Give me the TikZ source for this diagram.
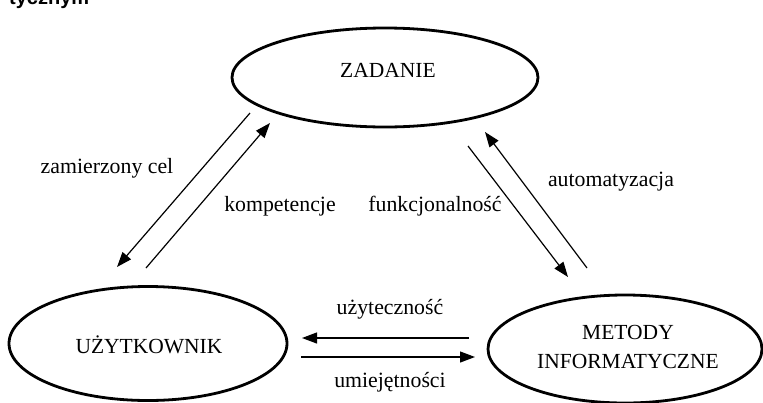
\documentclass[tikz,border=0pt]{standalone}
\usepackage{fontspec}
\setmainfont{Liberation Serif}
\newfontfamily\headsans{Liberation Sans}
\usetikzlibrary{shapes.geometric,arrows.meta}
\tikzset{
  stateell/.style={draw=black,line width=2.8pt,ellipse,inner sep=0pt},
  flowarrow/.style={line width=1.2pt,-{Triangle[length=15pt,width=11pt]}},
  flowlabel/.style={font=\fontsize{21.8}{24}\selectfont,inner sep=0pt},
  elllabel/.style={font=\fontsize{21.5}{29}\selectfont,align=center,inner sep=0pt}
}
\begin{document}
\begin{tikzpicture}[x=1pt,y=-1pt]
\useasboundingbox (0,0) rectangle (763,402);
\clip (0,0) rectangle (763,402);
\fill[white] (0,0) rectangle (763,402);
% cut-off heading text
\node[anchor=base west,inner sep=0pt,font=\headsans\bfseries\fontsize{20}{22}\selectfont] (head) at (9,4) {tycznym};
% ellipses
\node[stateell,minimum width=306pt,minimum height=99pt] (zad) at (385,77.5) {};
\node[elllabel] (zadt) at (388,70) {ZADANIE};
\node[stateell,minimum width=278pt,minimum height=114pt] (uzy) at (148,343.5) {};
\node[elllabel] (uzyt) at (149,345) {UŻYTKOWNIK};
\node[stateell,minimum width=274pt,minimum height=108pt] (met) at (625,349) {};
\node[elllabel] (mett) at (628,347) {METODY\\INFORMATYCZNE};
% arrow end points
\coordinate (zc1) at (250,113);
\coordinate (zc2) at (117,267);
\coordinate (ko1) at (146,268);
\coordinate (ko2) at (270,123);
\coordinate (fu1) at (468,146);
\coordinate (fu2) at (568,277);
\coordinate (au1) at (587,268);
\coordinate (au2) at (485,132);
\coordinate (uz1) at (469,338);
\coordinate (uz2) at (302,338);
\coordinate (um1) at (301,357);
\coordinate (um2) at (475,357);
\draw[flowarrow] (zc1) -- (zc2);
\draw[flowarrow] (ko1) -- (ko2);
\draw[flowarrow] (fu1) -- (fu2);
\draw[flowarrow] (au1) -- (au2);
\draw[flowarrow] (uz1) -- (uz2);
\draw[flowarrow] (um1) -- (um2);
% labels
\node[flowlabel] (lzc) at (107,168) {zamierzony cel};
\node[flowlabel] (lko) at (280,206) {kompetencje};
\node[flowlabel] (lfu) at (435,206) {funkcjonalność};
\node[flowlabel] (lau) at (611,182) {automatyzacja};
\node[flowlabel] (luz) at (390,309) {użyteczność};
\node[flowlabel] (lum) at (390,382) {umiejętności};
\end{tikzpicture}
\end{document}
